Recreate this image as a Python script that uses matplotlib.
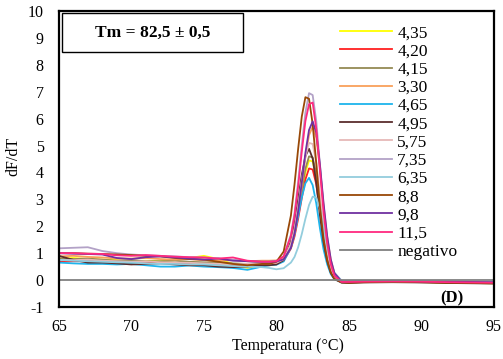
import matplotlib
matplotlib.use('Agg')
import matplotlib.pyplot as plt
from matplotlib.patches import Rectangle

plt.rcParams['font.family'] = ['Liberation Serif', 'DejaVu Serif']
plt.rcParams['axes.unicode_minus'] = False

# temperature grid shared by all melt curves (degC)
temp = [65, 66, 67, 68, 69, 70, 71, 72, 73, 74, 75, 76, 77, 78, 79, 79.5,
        80, 80.5, 81, 81.25, 81.5, 81.75, 82, 82.25, 82.5, 82.75, 83, 83.25,
        83.5, 83.75, 84, 84.5, 85, 86, 88, 90, 92, 95]

# dF/dT values, one list per sample
s_435 = [0.80, 0.82, 0.78, 0.76, 0.74, 0.70, 0.72, 0.70, 0.74, 0.82, 0.90, 0.78, 0.60, 0.45, 0.55, 0.60,
         0.62, 0.73, 1.22, 1.71, 2.43, 3.26, 4.00, 4.45, 4.41, 3.82, 2.78, 1.75, 0.95, 0.41, 0.10, -0.08,
         -0.08, -0.06, -0.05, -0.07, -0.10, -0.12]
s_420 = [0.68, 0.70, 0.70, 0.72, 0.70, 0.68, 0.68, 0.64, 0.62, 0.60, 0.56, 0.56, 0.55, 0.58, 0.60, 0.60,
         0.61, 0.72, 1.17, 1.62, 2.28, 3.05, 3.74, 4.15, 4.11, 3.56, 2.60, 1.64, 0.90, 0.38, 0.09, -0.07,
         -0.07, -0.06, -0.06, -0.07, -0.09, -0.10]
s_415 = [0.80, 0.78, 0.80, 0.76, 0.72, 0.74, 0.70, 0.70, 0.72, 0.68, 0.66, 0.66, 0.62, 0.60, 0.65, 0.65,
         0.67, 0.78, 1.29, 1.79, 2.52, 3.38, 4.14, 4.60, 4.56, 3.95, 2.88, 1.81, 0.99, 0.43, 0.10, -0.07,
         -0.07, -0.06, -0.05, -0.06, -0.08, -0.09]
s_330 = [0.88, 0.90, 0.86, 0.84, 0.80, 0.80, 0.82, 0.78, 0.76, 0.78, 0.74, 0.72, 0.74, 0.70, 0.72, 0.72,
         0.73, 0.80, 1.22, 1.73, 2.51, 3.52, 4.58, 5.39, 5.70, 5.29, 4.17, 2.78, 1.60, 0.75, 0.26, -0.05,
         -0.06, -0.05, -0.04, -0.05, -0.07, -0.09]
s_465 = [0.65, 0.62, 0.60, 0.60, 0.58, 0.60, 0.55, 0.50, 0.50, 0.54, 0.50, 0.48, 0.45, 0.38, 0.50, 0.55,
         0.57, 0.69, 1.21, 1.72, 2.38, 3.07, 3.60, 3.80, 3.53, 2.85, 1.93, 1.14, 0.59, 0.22, 0.03, -0.08,
         -0.08, -0.07, -0.06, -0.07, -0.08, -0.10]
s_495 = [0.90, 0.75, 0.65, 0.65, 0.62, 0.58, 0.60, 0.62, 0.58, 0.55, 0.55, 0.50, 0.48, 0.50, 0.55, 0.55,
         0.58, 0.74, 1.43, 2.11, 2.99, 3.91, 4.61, 4.88, 4.52, 3.61, 2.42, 1.41, 0.71, 0.27, 0.04, -0.10,
         -0.11, -0.09, -0.08, -0.09, -0.11, -0.13]
s_575 = [0.75, 0.74, 0.76, 0.72, 0.70, 0.68, 0.70, 0.66, 0.65, 0.64, 0.62, 0.60, 0.58, 0.60, 0.62, 0.62,
         0.64, 0.77, 1.35, 1.91, 2.75, 3.72, 4.58, 5.10, 5.06, 4.36, 3.18, 1.99, 1.08, 0.46, 0.12, -0.07,
         -0.07, -0.06, -0.05, -0.06, -0.07, -0.09]
s_735 = [1.18, 1.20, 1.22, 1.08, 1.00, 0.95, 0.92, 0.90, 0.88, 0.85, 0.84, 0.80, 0.76, 0.70, 0.68, 0.68,
         0.71, 0.89, 1.69, 2.49, 3.65, 5.01, 6.22, 6.95, 6.88, 5.91, 4.29, 2.67, 1.43, 0.62, 0.17, -0.07,
         -0.07, -0.05, -0.04, -0.05, -0.06, -0.08]
s_635 = [0.75, 0.72, 0.70, 0.68, 0.66, 0.65, 0.62, 0.60, 0.60, 0.58, 0.58, 0.55, 0.52, 0.50, 0.48, 0.45,
         0.40, 0.44, 0.65, 0.86, 1.22, 1.71, 2.28, 2.79, 3.10, 3.07, 2.67, 1.95, 1.24, 0.64, 0.27, -0.02,
         -0.05, -0.05, -0.04, -0.05, -0.06, -0.07]
s_88 = [1.00, 1.00, 0.98, 0.97, 0.95, 0.93, 0.90, 0.88, 0.82, 0.78, 0.76, 0.68, 0.60, 0.55, 0.60, 0.60,
        0.68, 1.06, 2.40, 3.56, 4.88, 6.08, 6.80, 6.74, 5.80, 4.33, 2.75, 1.52, 0.75, 0.28, 0.04, -0.08,
        -0.10, -0.08, -0.06, -0.08, -0.10, -0.12]
s_98 = [1.00, 0.98, 0.97, 0.95, 0.82, 0.78, 0.85, 0.88, 0.84, 0.80, 0.76, 0.80, 0.72, 0.70, 0.68, 0.68,
        0.69, 0.77, 1.20, 1.74, 2.56, 3.62, 4.73, 5.58, 5.90, 5.47, 4.30, 2.87, 1.64, 0.77, 0.26, -0.05,
        -0.05, -0.04, -0.03, -0.05, -0.06, -0.08]
s_115 = [1.00, 1.00, 0.98, 0.97, 0.92, 0.90, 0.93, 0.90, 0.87, 0.85, 0.84, 0.80, 0.84, 0.72, 0.68, 0.68,
         0.70, 0.88, 1.64, 2.39, 3.49, 4.77, 5.91, 6.54, 6.60, 5.62, 4.08, 2.55, 1.37, 0.59, 0.16, -0.07,
         -0.07, -0.06, -0.05, -0.06, -0.08, -0.10]
neg_temp = [65, 95]
neg = [0.02, 0.02]

labels = ['4,35', '4,20', '4,15', '3,30', '4,65', '4,95', '5,75',
          '7,35', '6,35', '8,8', '9,8', '11,5']
series = [s_435, s_420, s_415, s_330, s_465, s_495, s_575,
          s_735, s_635, s_88, s_98, s_115]
colors = ['#FFFF00', '#FF2020', '#948A54', '#F9A05A', '#1EB4EC', '#5A2D2D', '#E6B9B8',
          '#B3A2C7', '#93CDDD', '#984807', '#7030A0', '#FF2A7F']

fig = plt.figure(figsize=(5.03, 3.59), dpi=100)
ax = fig.add_axes([0.117, 0.145, 0.865, 0.824])

for vals, lab, col in zip(series, labels, colors):
    ax.plot(temp, vals, color=col, linewidth=1.3, label=lab)
ax.plot(neg_temp, neg, color='#808080', linewidth=1.3, label='negativo')

ax.set_xlim(65, 95)
ax.set_ylim(-1, 10)
ax.set_xticks(range(65, 96, 5))
ax.set_yticks(range(-1, 11))
ax.tick_params(length=0, labelsize=11.5)
ax.tick_params(axis='x', pad=9)
ax.tick_params(axis='y', pad=11)
for sp in ax.spines.values():
    sp.set_linewidth(1.6)

ax.set_xlabel('Temperatura (°C)', fontsize=11.5, labelpad=0)
ax.xaxis.set_label_coords(0.527, -0.105)
ax.set_ylabel('dF/dT', fontsize=11.5)
ax.yaxis.set_label_coords(-0.085, 0.51)

# Tm box in the top-left corner
ax.add_patch(Rectangle((0.008, 0.862), 0.416, 0.13, transform=ax.transAxes,
                       fill=False, edgecolor='black', linewidth=1.0))
ax.text(0.215, 0.927, 'Tm = 82,5 ± 0,5', transform=ax.transAxes,
        fontsize=12.5, fontweight='bold', ha='center', va='center')

ax.text(92.1, -0.67, '(D)', fontsize=12, fontweight='bold', ha='center', va='center')

ax.legend(loc='upper left', bbox_to_anchor=(340 / 503, 1 - 25 / 359),
          bbox_transform=fig.transFigure, frameon=False, fontsize=12.5,
          handlelength=3.0, handletextpad=0.3, labelspacing=0.12,
          borderpad=0, borderaxespad=0)

plt.savefig('out.png', dpi=100)
